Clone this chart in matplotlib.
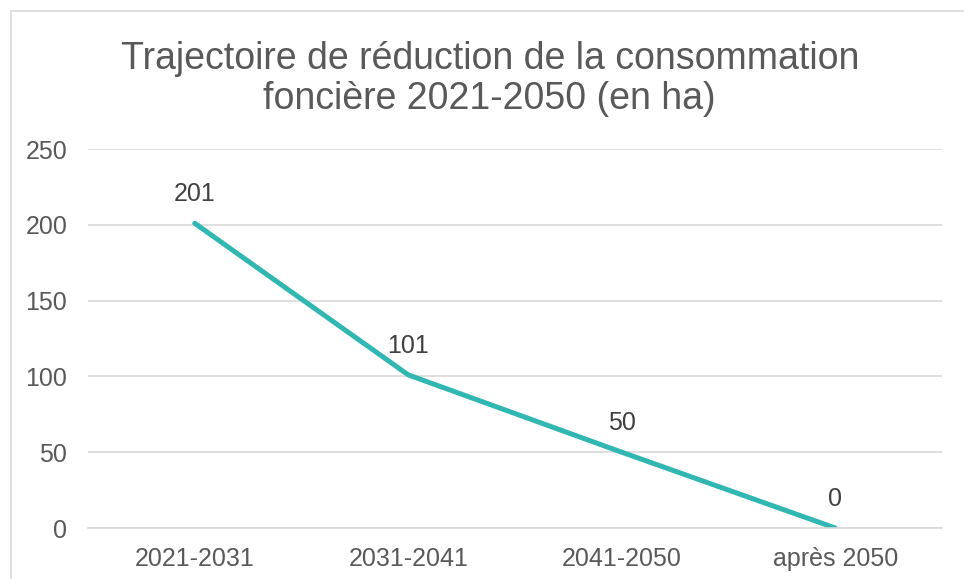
import matplotlib.pyplot as plt
from matplotlib.patches import Rectangle

plt.rcParams['font.family'] = ['Liberation Sans', 'DejaVu Sans']

periodes = ["2021-2031", "2031-2041", "2041-2050", "après 2050"]
hectares = [201, 101, 50, 0]
etiquettes = ["201", "101", "50", "0"]
yticks = [0, 50, 100, 150, 200, 250]

W, H = 964, 579
fig = plt.figure(figsize=(W / 100, H / 100), dpi=100)
ax = fig.add_axes([88 / W, 1 - 528 / H, (942 - 88) / W, (528 - 149) / H])

# chart frame (cut by the image edge on the right and bottom)
fig.patches.append(Rectangle((10.5 / W, -0.1), 1.0, 1.1 - 10.5 / H,
                             transform=fig.transFigure, fill=False,
                             edgecolor='#d9d9d9', linewidth=1.2))

x = list(range(len(periodes)))
ax.plot(x, hectares, color='#31b7b1', linewidth=3.6, solid_capstyle='round')
for xi, v, lab in zip(x, hectares, etiquettes):
    ax.annotate(lab, (xi, v), xytext=(0, 21), textcoords='offset points',
                ha='center', va='center', fontsize=18, color='#404040')

ax.set_xlim(-0.5, len(periodes) - 0.5)
ax.set_ylim(0, 250)
ax.set_yticks(yticks)
ax.set_xticks(x)
ax.set_xticklabels(periodes)
ax.grid(axis='y', color='#d9d9d9', linewidth=1.2)
ax.set_axisbelow(True)
for s in ['top', 'right', 'left']:
    ax.spines[s].set_visible(False)
ax.spines['bottom'].set_color('#d9d9d9')
ax.spines['bottom'].set_linewidth(1.2)
ax.tick_params(length=0, labelsize=18, labelcolor='#595959')
ax.tick_params(axis='y', pad=15)
ax.tick_params(axis='x', pad=14)

fig.text(0.508, 1 - 79 / H, "Trajectoire de réduction de la consommation\nfoncière 2021-2050 (en ha)",
         ha='center', va='center', fontsize=27, color='#595959', linespacing=1.12)

fig.savefig('out.png', dpi=100)
